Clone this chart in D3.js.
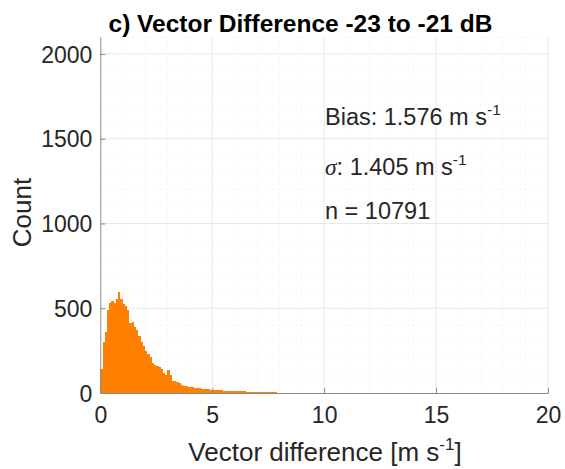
<!DOCTYPE html>
<html>
<head>
<meta charset="utf-8">
<script src="https://cdn.jsdelivr.net/npm/d3@7"></script>
<style>
  html, body { margin: 0; padding: 0; background: #ffffff; }
  svg { display: block; }
  text { font-family: "Liberation Sans", Arial, Helvetica, sans-serif; fill: #262626; }
</style>
</head>
<body>
<svg id="chart" width="565" height="469"></svg>
<script>
// ---------------------------------------------------------
// Histogram — Vector Difference -23 to -21 dB
// bins are 0.1 m/s wide, starting at 0
// ---------------------------------------------------------

const TITLE   = "c) Vector Difference -23 to -21 dB";
const X_LABEL = "Vector difference [m s";
const Y_LABEL = "Count";

const BIN_START = 0;
const BIN_WIDTH = 0.1;

// counts per bin (0.0–0.1, 0.1–0.2, ...)
const counts = [
  140, 300, 360, 490, 530, 540, 530, 555, 598, 555,
  525, 515, 490, 415, 420, 392, 372, 335, 303, 275,
  245, 232, 215, 175, 165, 160, 152, 140, 118, 106,
  136, 104, 72, 68, 62, 58, 45, 42, 40, 38,
  37, 35, 32, 30, 28, 26, 24, 22, 21, 19,
  18, 17, 16, 16, 15, 14, 14, 13, 12, 11,
  11, 10, 10, 9, 9, 8, 8, 7, 7, 7,
  6, 6, 6, 5, 5, 5, 4, 4, 4, 2,
  1, 2, 1, 0, 1, 0, 1, 0, 0, 2,
  0, 1, 0, 2, 0, 0, 0, 1, 0, 0,
  2, 1, 0, 0, 0, 0, 1, 0, 0, 0,
  0, 0, 0, 0, 0, 0, 0, 2, 0, 0,
  0, 0, 0, 0, 0, 0, 0, 0, 1, 0
];

const xTicks = [0, 5, 10, 15, 20];
const yTicks = [0, 500, 1000, 1500, 2000];
const xMinorStep = 1;
const yMinorStep = 100;

const stats = [
  { label: "Bias: 1.576 m s", sup: "-1", sigma: false },
  { label: ": 1.405 m s",     sup: "-1", sigma: true },
  { label: "n = 10791",       sup: null, sigma: false }
];

// -------------------------------------------------------
// SCALES
// -------------------------------------------------------
const svg = d3.select("#chart");

const plot = { left: 100.3, right: 548, top: 37, bottom: 393 };

const x = d3.scaleLinear().domain([0, 20]).range([plot.left, plot.right]);
const y = d3.scaleLinear().domain([0, 2100]).range([plot.bottom, plot.top]);

// -------------------------------------------------------
// GRID
// -------------------------------------------------------
const grid = svg.append("g");

const xMinor = d3.range(0, 20 + 1e-9, xMinorStep).filter(v => !xTicks.includes(v));
const yMinor = d3.range(0, 2100 + 1e-9, yMinorStep).filter(v => !yTicks.includes(v));

grid.selectAll("line.xminor").data(xMinor).enter().append("line")
  .attr("x1", d => x(d)).attr("x2", d => x(d))
  .attr("y1", plot.top).attr("y2", plot.bottom)
  .attr("stroke", "#e0e0e0").attr("stroke-width", 0.6)
  .attr("stroke-dasharray", "1,3");

grid.selectAll("line.yminor").data(yMinor).enter().append("line")
  .attr("y1", d => y(d)).attr("y2", d => y(d))
  .attr("x1", plot.left).attr("x2", plot.right)
  .attr("stroke", "#e0e0e0").attr("stroke-width", 0.6)
  .attr("stroke-dasharray", "1,3");

grid.selectAll("line.xmajor").data(xTicks.slice(1)).enter().append("line")
  .attr("x1", d => x(d)).attr("x2", d => x(d))
  .attr("y1", plot.top).attr("y2", plot.bottom)
  .attr("stroke", "#e8e8e8").attr("stroke-width", 1);

grid.selectAll("line.ymajor").data(yTicks.slice(1)).enter().append("line")
  .attr("y1", d => y(d)).attr("y2", d => y(d))
  .attr("x1", plot.left).attr("x2", plot.right)
  .attr("stroke", "#e8e8e8").attr("stroke-width", 1);

// -------------------------------------------------------
// BARS
// -------------------------------------------------------
const bins = counts.map((c, i) => ({
  x0: BIN_START + i * BIN_WIDTH,
  x1: BIN_START + (i + 1) * BIN_WIDTH,
  count: c
})).filter(d => d.count > 0);

svg.append("g")
  .attr("shape-rendering", "crispEdges")
  .selectAll("rect")
  .data(bins)
  .enter()
  .append("rect")
  .attr("x", d => x(d.x0))
  .attr("width", d => x(d.x1) - x(d.x0))
  .attr("y", d => y(d.count))
  .attr("height", d => Math.max(1, y(0) - y(d.count)))
  .attr("fill", "#ff8000")
  .attr("fill-opacity", d => d.count < 3 ? 0.45 : 1);

// -------------------------------------------------------
// AXES
// -------------------------------------------------------
const xAxis = svg.append("g")
  .attr("transform", `translate(0,${plot.bottom})`)
  .call(d3.axisBottom(x).tickValues(xTicks).tickFormat(d3.format("d"))
    .tickSizeInner(-5).tickSizeOuter(0).tickPadding(10));

const yAxis = svg.append("g")
  .attr("transform", `translate(${plot.left},0)`)
  .call(d3.axisLeft(y).tickValues(yTicks).tickFormat(d3.format("d"))
    .tickSizeInner(-5).tickSizeOuter(0).tickPadding(8));

[xAxis, yAxis].forEach(ax => {
  ax.select(".domain").attr("stroke", "#8a8a8a").attr("stroke-width", 1);
  ax.selectAll(".tick line").attr("stroke", "#8a8a8a");
  ax.selectAll(".tick text")
    .attr("fill", "#262626")
    .style("font-size", "23px")
    .style("font-family", "'Liberation Sans', Arial, sans-serif");
});

xAxis.selectAll(".tick text").attr("y", 14).attr("dy", "0.71em");
yAxis.selectAll(".tick text").attr("x", -8).attr("dy", "0.36em");

// -------------------------------------------------------
// LABELS
// -------------------------------------------------------
svg.append("text")
  .attr("x", 300.5)
  .attr("y", 31.5)
  .attr("text-anchor", "middle")
  .style("font-size", "24.5px")
  .style("font-weight", "bold")
  .style("fill", "#000")
  .text(TITLE);

const xl = svg.append("text")
  .attr("x", 325)
  .attr("y", 461)
  .attr("text-anchor", "middle")
  .style("font-size", "26px");
xl.append("tspan").text(X_LABEL);
xl.append("tspan").attr("dy", -11).style("font-size", "17px").text("-1");
xl.append("tspan").attr("dy", 11).text("]");

svg.append("text")
  .attr("transform", "translate(31,212.5) rotate(-90)")
  .attr("text-anchor", "middle")
  .style("font-size", "26px")
  .text(Y_LABEL);

// -------------------------------------------------------
// STATS TEXT
// -------------------------------------------------------
const statY = [125, 175, 218.5];

stats.forEach((s, i) => {
  const t = svg.append("text")
    .attr("x", 325)
    .attr("y", statY[i])
    .style("font-size", "23.5px");
  if (s.sigma) {
    t.append("tspan")
      .style("font-family", "'Liberation Serif', 'Times New Roman', serif")
      .style("font-style", "italic")
      .text("\u03c3");
  }
  t.append("tspan").text(s.label);
  if (s.sup) {
    t.append("tspan").attr("dy", -10).style("font-size", "15.5px").text(s.sup);
  }
});
</script>
</body>
</html>
